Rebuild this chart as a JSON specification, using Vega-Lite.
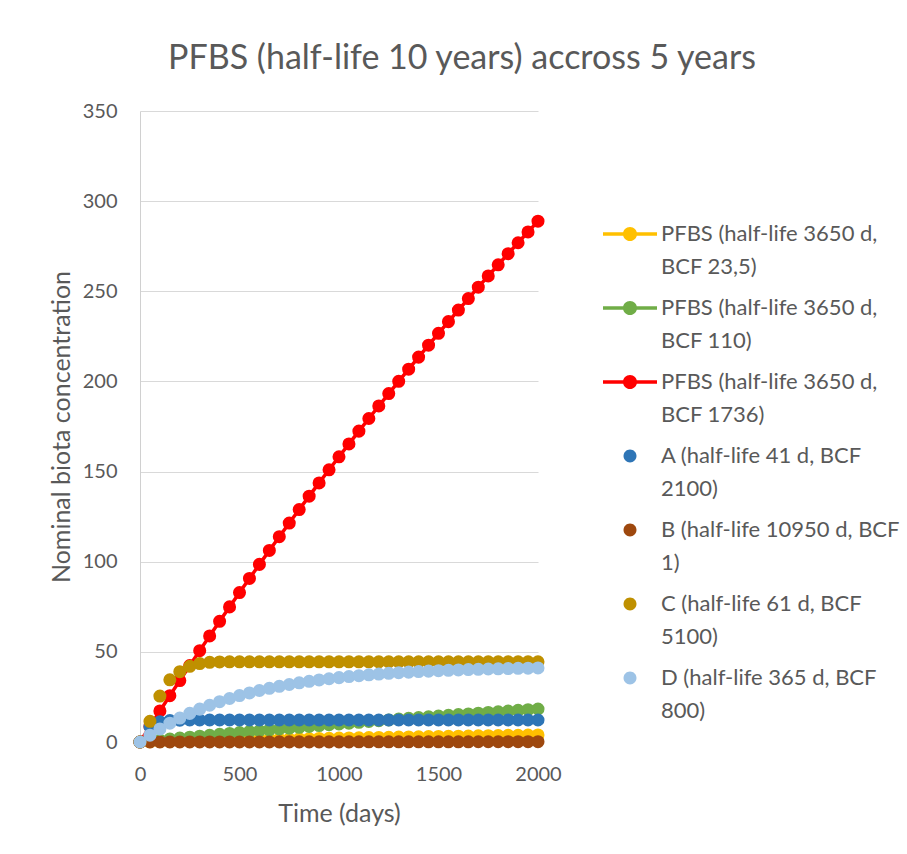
{
  "$schema": "https://vega.github.io/schema/vega-lite/v6.json",
  "autosize": {"type": "none"},
  "padding": {"left": 140, "top": 111, "right": 369, "bottom": 112},
  "width": 398,
  "height": 631,
  "background": "white",
  "title": {
    "text": "PFBS (half-life 10 years) accross 5 years",
    "font": "Lato", "fontSize": 34, "fontWeight": "normal", "color": "#595959",
    "anchor": "middle", "frame": "group", "dx": 123, "offset": -2, "baseline": "alphabetic"
  },
  "config": {
    "view": {"stroke": null},
    "font": "Lato",
    "axis": {"labelFont": "Lato", "titleFont": "Lato", "labelColor": "#595959", "titleColor": "#595959", "labelFontSize": 20, "titleFontSize": 25, "titleFontWeight": "normal"}
  },
  "datasets": {
    "series": [
      {"k": "Y", "name": "PFBS (half-life 3650 d, BCF 23,5)"},
      {"k": "G", "name": "PFBS (half-life 3650 d, BCF 110)"},
      {"k": "R", "name": "PFBS (half-life 3650 d, BCF 1736)"},
      {"k": "A", "name": "A (half-life 41 d, BCF 2100)"},
      {"k": "B", "name": "B (half-life 10950 d, BCF 1)"},
      {"k": "C", "name": "C (half-life 61 d, BCF 5100)"},
      {"k": "D", "name": "D (half-life 365 d, BCF 800)"}
    ],
    "pts": [
      {"k":"Y","t":0,"v":0},{"k":"Y","t":50,"v":0.12},{"k":"Y","t":100,"v":0.23},{"k":"Y","t":150,"v":0.35},{"k":"Y","t":200,"v":0.46},{"k":"Y","t":250,"v":0.57},{"k":"Y","t":300,"v":0.69},{"k":"Y","t":350,"v":0.8},{"k":"Y","t":400,"v":0.91},{"k":"Y","t":450,"v":1.01},{"k":"Y","t":500,"v":1.12},{"k":"Y","t":550,"v":1.23},{"k":"Y","t":600,"v":1.33},{"k":"Y","t":650,"v":1.44},{"k":"Y","t":700,"v":1.54},{"k":"Y","t":750,"v":1.64},{"k":"Y","t":800,"v":1.75},{"k":"Y","t":850,"v":1.85},{"k":"Y","t":900,"v":1.95},{"k":"Y","t":950,"v":2.04},{"k":"Y","t":1000,"v":2.14},{"k":"Y","t":1050,"v":2.24},{"k":"Y","t":1100,"v":2.33},{"k":"Y","t":1150,"v":2.43},{"k":"Y","t":1200,"v":2.52},{"k":"Y","t":1250,"v":2.62},{"k":"Y","t":1300,"v":2.71},{"k":"Y","t":1350,"v":2.8},{"k":"Y","t":1400,"v":2.89},{"k":"Y","t":1450,"v":2.98},{"k":"Y","t":1500,"v":3.07},{"k":"Y","t":1550,"v":3.16},{"k":"Y","t":1600,"v":3.24},{"k":"Y","t":1650,"v":3.33},{"k":"Y","t":1700,"v":3.41},{"k":"Y","t":1750,"v":3.5},{"k":"Y","t":1800,"v":3.58},{"k":"Y","t":1850,"v":3.67},{"k":"Y","t":1900,"v":3.75},{"k":"Y","t":1950,"v":3.83},{"k":"Y","t":2000,"v":3.91},
      {"k":"G","t":0,"v":0},{"k":"G","t":50,"v":0.55},{"k":"G","t":100,"v":1.09},{"k":"G","t":150,"v":1.63},{"k":"G","t":200,"v":2.16},{"k":"G","t":250,"v":2.69},{"k":"G","t":300,"v":3.21},{"k":"G","t":350,"v":3.73},{"k":"G","t":400,"v":4.24},{"k":"G","t":450,"v":4.75},{"k":"G","t":500,"v":5.25},{"k":"G","t":550,"v":5.75},{"k":"G","t":600,"v":6.24},{"k":"G","t":650,"v":6.73},{"k":"G","t":700,"v":7.21},{"k":"G","t":750,"v":7.69},{"k":"G","t":800,"v":8.17},{"k":"G","t":850,"v":8.64},{"k":"G","t":900,"v":9.11},{"k":"G","t":950,"v":9.57},{"k":"G","t":1000,"v":10.02},{"k":"G","t":1050,"v":10.48},{"k":"G","t":1100,"v":10.93},{"k":"G","t":1150,"v":11.37},{"k":"G","t":1200,"v":11.81},{"k":"G","t":1250,"v":12.24},{"k":"G","t":1300,"v":12.68},{"k":"G","t":1350,"v":13.1},{"k":"G","t":1400,"v":13.53},{"k":"G","t":1450,"v":13.95},{"k":"G","t":1500,"v":14.36},{"k":"G","t":1550,"v":14.77},{"k":"G","t":1600,"v":15.18},{"k":"G","t":1650,"v":15.58},{"k":"G","t":1700,"v":15.98},{"k":"G","t":1750,"v":16.38},{"k":"G","t":1800,"v":16.77},{"k":"G","t":1850,"v":17.16},{"k":"G","t":1900,"v":17.55},{"k":"G","t":1950,"v":17.93},{"k":"G","t":2000,"v":18.3},
      {"k":"R","t":0,"v":0},{"k":"R","t":50,"v":8.65},{"k":"R","t":100,"v":17.21},{"k":"R","t":150,"v":25.7},{"k":"R","t":200,"v":34.1},{"k":"R","t":250,"v":42.43},{"k":"R","t":300,"v":50.67},{"k":"R","t":350,"v":58.84},{"k":"R","t":400,"v":66.93},{"k":"R","t":450,"v":74.94},{"k":"R","t":500,"v":82.88},{"k":"R","t":550,"v":90.74},{"k":"R","t":600,"v":98.52},{"k":"R","t":650,"v":106.24},{"k":"R","t":700,"v":113.87},{"k":"R","t":750,"v":121.44},{"k":"R","t":800,"v":128.93},{"k":"R","t":850,"v":136.36},{"k":"R","t":900,"v":143.71},{"k":"R","t":950,"v":150.99},{"k":"R","t":1000,"v":158.2},{"k":"R","t":1050,"v":165.35},{"k":"R","t":1100,"v":172.43},{"k":"R","t":1150,"v":179.43},{"k":"R","t":1200,"v":186.38},{"k":"R","t":1250,"v":193.25},{"k":"R","t":1300,"v":200.06},{"k":"R","t":1350,"v":206.81},{"k":"R","t":1400,"v":213.49},{"k":"R","t":1450,"v":220.11},{"k":"R","t":1500,"v":226.67},{"k":"R","t":1550,"v":233.16},{"k":"R","t":1600,"v":239.59},{"k":"R","t":1650,"v":245.96},{"k":"R","t":1700,"v":252.27},{"k":"R","t":1750,"v":258.52},{"k":"R","t":1800,"v":264.71},{"k":"R","t":1850,"v":270.85},{"k":"R","t":1900,"v":276.92},{"k":"R","t":1950,"v":282.94},{"k":"R","t":2000,"v":288.89},
      {"k":"A","t":0,"v":0},{"k":"A","t":50,"v":8.5},{"k":"A","t":100,"v":11.2},{"k":"A","t":150,"v":11.9},{"k":"A","t":200,"v":12.1},{"k":"A","t":250,"v":12.2},{"k":"A","t":300,"v":12.2},{"k":"A","t":350,"v":12.2},{"k":"A","t":400,"v":12.2},{"k":"A","t":450,"v":12.2},{"k":"A","t":500,"v":12.2},{"k":"A","t":550,"v":12.2},{"k":"A","t":600,"v":12.2},{"k":"A","t":650,"v":12.2},{"k":"A","t":700,"v":12.2},{"k":"A","t":750,"v":12.2},{"k":"A","t":800,"v":12.2},{"k":"A","t":850,"v":12.2},{"k":"A","t":900,"v":12.2},{"k":"A","t":950,"v":12.2},{"k":"A","t":1000,"v":12.2},{"k":"A","t":1050,"v":12.2},{"k":"A","t":1100,"v":12.2},{"k":"A","t":1150,"v":12.2},{"k":"A","t":1200,"v":12.2},{"k":"A","t":1250,"v":12.2},{"k":"A","t":1300,"v":12.2},{"k":"A","t":1350,"v":12.2},{"k":"A","t":1400,"v":12.2},{"k":"A","t":1450,"v":12.2},{"k":"A","t":1500,"v":12.2},{"k":"A","t":1550,"v":12.2},{"k":"A","t":1600,"v":12.2},{"k":"A","t":1650,"v":12.2},{"k":"A","t":1700,"v":12.2},{"k":"A","t":1750,"v":12.2},{"k":"A","t":1800,"v":12.2},{"k":"A","t":1850,"v":12.2},{"k":"A","t":1900,"v":12.2},{"k":"A","t":1950,"v":12.2},{"k":"A","t":2000,"v":12.2},
      {"k":"B","t":0,"v":0},{"k":"B","t":50,"v":0},{"k":"B","t":100,"v":0.01},{"k":"B","t":150,"v":0.01},{"k":"B","t":200,"v":0.02},{"k":"B","t":250,"v":0.02},{"k":"B","t":300,"v":0.02},{"k":"B","t":350,"v":0.03},{"k":"B","t":400,"v":0.03},{"k":"B","t":450,"v":0.04},{"k":"B","t":500,"v":0.04},{"k":"B","t":550,"v":0.04},{"k":"B","t":600,"v":0.05},{"k":"B","t":650,"v":0.05},{"k":"B","t":700,"v":0.06},{"k":"B","t":750,"v":0.06},{"k":"B","t":800,"v":0.06},{"k":"B","t":850,"v":0.07},{"k":"B","t":900,"v":0.07},{"k":"B","t":950,"v":0.08},{"k":"B","t":1000,"v":0.08},{"k":"B","t":1050,"v":0.08},{"k":"B","t":1100,"v":0.09},{"k":"B","t":1150,"v":0.09},{"k":"B","t":1200,"v":0.1},{"k":"B","t":1250,"v":0.1},{"k":"B","t":1300,"v":0.1},{"k":"B","t":1350,"v":0.11},{"k":"B","t":1400,"v":0.11},{"k":"B","t":1450,"v":0.12},{"k":"B","t":1500,"v":0.12},{"k":"B","t":1550,"v":0.12},{"k":"B","t":1600,"v":0.13},{"k":"B","t":1650,"v":0.13},{"k":"B","t":1700,"v":0.14},{"k":"B","t":1750,"v":0.14},{"k":"B","t":1800,"v":0.14},{"k":"B","t":1850,"v":0.15},{"k":"B","t":1900,"v":0.15},{"k":"B","t":1950,"v":0.16},{"k":"B","t":2000,"v":0.16},
      {"k":"C","t":0,"v":0},{"k":"C","t":50,"v":11.5},{"k":"C","t":100,"v":25.5},{"k":"C","t":150,"v":34.5},{"k":"C","t":200,"v":39},{"k":"C","t":250,"v":42},{"k":"C","t":300,"v":43.5},{"k":"C","t":350,"v":44.2},{"k":"C","t":400,"v":44.4},{"k":"C","t":450,"v":44.5},{"k":"C","t":500,"v":44.5},{"k":"C","t":550,"v":44.5},{"k":"C","t":600,"v":44.5},{"k":"C","t":650,"v":44.5},{"k":"C","t":700,"v":44.5},{"k":"C","t":750,"v":44.5},{"k":"C","t":800,"v":44.5},{"k":"C","t":850,"v":44.5},{"k":"C","t":900,"v":44.5},{"k":"C","t":950,"v":44.5},{"k":"C","t":1000,"v":44.5},{"k":"C","t":1050,"v":44.5},{"k":"C","t":1100,"v":44.5},{"k":"C","t":1150,"v":44.5},{"k":"C","t":1200,"v":44.5},{"k":"C","t":1250,"v":44.5},{"k":"C","t":1300,"v":44.5},{"k":"C","t":1350,"v":44.5},{"k":"C","t":1400,"v":44.5},{"k":"C","t":1450,"v":44.5},{"k":"C","t":1500,"v":44.5},{"k":"C","t":1550,"v":44.5},{"k":"C","t":1600,"v":44.5},{"k":"C","t":1650,"v":44.5},{"k":"C","t":1700,"v":44.5},{"k":"C","t":1750,"v":44.5},{"k":"C","t":1800,"v":44.5},{"k":"C","t":1850,"v":44.5},{"k":"C","t":1900,"v":44.5},{"k":"C","t":1950,"v":44.5},{"k":"C","t":2000,"v":44.5},
      {"k":"D","t":0,"v":0},{"k":"D","t":50,"v":3.8},{"k":"D","t":100,"v":7.26},{"k":"D","t":150,"v":10.41},{"k":"D","t":200,"v":13.27},{"k":"D","t":250,"v":15.87},{"k":"D","t":300,"v":18.24},{"k":"D","t":350,"v":20.39},{"k":"D","t":400,"v":22.35},{"k":"D","t":450,"v":24.13},{"k":"D","t":500,"v":25.75},{"k":"D","t":550,"v":27.22},{"k":"D","t":600,"v":28.56},{"k":"D","t":650,"v":29.78},{"k":"D","t":700,"v":30.88},{"k":"D","t":750,"v":31.89},{"k":"D","t":800,"v":32.81},{"k":"D","t":850,"v":33.64},{"k":"D","t":900,"v":34.4},{"k":"D","t":950,"v":35.08},{"k":"D","t":1000,"v":35.71},{"k":"D","t":1050,"v":36.28},{"k":"D","t":1100,"v":36.8},{"k":"D","t":1150,"v":37.27},{"k":"D","t":1200,"v":37.7},{"k":"D","t":1250,"v":38.09},{"k":"D","t":1300,"v":38.44},{"k":"D","t":1350,"v":38.76},{"k":"D","t":1400,"v":39.06},{"k":"D","t":1450,"v":39.32},{"k":"D","t":1500,"v":39.57},{"k":"D","t":1550,"v":39.79},{"k":"D","t":1600,"v":39.99},{"k":"D","t":1650,"v":40.17},{"k":"D","t":1700,"v":40.34},{"k":"D","t":1750,"v":40.49},{"k":"D","t":1800,"v":40.62},{"k":"D","t":1850,"v":40.75},{"k":"D","t":1900,"v":40.86},{"k":"D","t":1950,"v":40.96},{"k":"D","t":2000,"v":41.06}
    ]
  },
  "data": {"name": "pts"},
  "transform": [
    {"lookup": "k", "from": {"data": {"name": "series"}, "key": "k", "fields": ["name"]}}
  ],
  "encoding": {
    "x": {
      "field": "t", "type": "quantitative",
      "scale": {"domain": [0, 2000], "nice": false},
      "axis": {"title": "Time (days)", "values": [0, 500, 1000, 1500, 2000], "format": "d", "grid": false, "domain": false, "ticks": false, "labelPadding": 22, "titlePadding": 17, "labelFlush": false}
    },
    "y": {
      "field": "v", "type": "quantitative",
      "scale": {"domain": [0, 350], "nice": false},
      "axis": {"title": "Nominal biota concentration", "values": [0, 50, 100, 150, 200, 250, 300, 350], "grid": true, "gridColor": "#d9d9d9", "gridWidth": 1, "domain": true, "domainColor": "#d0d0d0", "ticks": false, "labelPadding": 23, "titlePadding": 8, "labelFlush": false}
    },
    "color": {
      "field": "name", "type": "nominal",
      "scale": {
        "domain": ["PFBS (half-life 3650 d, BCF 23,5)", "PFBS (half-life 3650 d, BCF 110)", "PFBS (half-life 3650 d, BCF 1736)", "A (half-life 41 d, BCF 2100)", "B (half-life 10950 d, BCF 1)", "C (half-life 61 d, BCF 5100)", "D (half-life 365 d, BCF 800)"],
        "range": ["#FFC000", "#70AD47", "#FF0000", "#2E75B6", "#9E480E", "#BF9000", "#9DC3E6"]
      },
      "legend": {
        "title": null, "orient": "none", "legendX": 463, "legendY": 96, "padding": 0,
        "labelFont": "Lato", "labelFontSize": 22, "labelColor": "#595959", "labelLimit": 400, "labelOffset": 4, "rowPadding": 3,
        "labelExpr": "indexof(datum.label,'PFBS')==0 ? [slice(datum.label,0,indexof(datum.label,' BCF')), slice(datum.label,indexof(datum.label,' BCF')+1)] : [slice(datum.label,0,lastindexof(datum.label,' ')), slice(datum.label,lastindexof(datum.label,' ')+1)]",
        "encode": {
          "symbols": {"update": {
            "shape": {"signal": "indexof(datum.value,'PFBS')==0 ? 'M-1,-0.065H1V0.065H-1Z M-0.26,0A0.26,0.26 0 1,1 0.26,0A0.26,0.26 0 1,1 -0.26,0Z' : 'M-0.24,0A0.24,0.24 0 1,1 0.24,0A0.24,0.24 0 1,1 -0.24,0Z'"},
            "size": {"value": 2916},
            "fill": {"scale": "color", "field": "value"},
            "fillOpacity": {"value": 1},
            "opacity": {"value": 1},
            "strokeWidth": {"value": 0}
          }},
          "labels": {"update": {"lineHeight": {"value": 33}}}
        }
      }
    }
  },
  "layer": [
    {
      "transform": [{"filter": {"field": "k", "oneOf": ["Y", "G", "R"]}}],
      "mark": {"type": "line", "strokeWidth": 3.5}
    },
    {
      "mark": {"type": "point", "filled": true, "size": 170, "opacity": 1, "strokeWidth": 0}
    }
  ]
}
